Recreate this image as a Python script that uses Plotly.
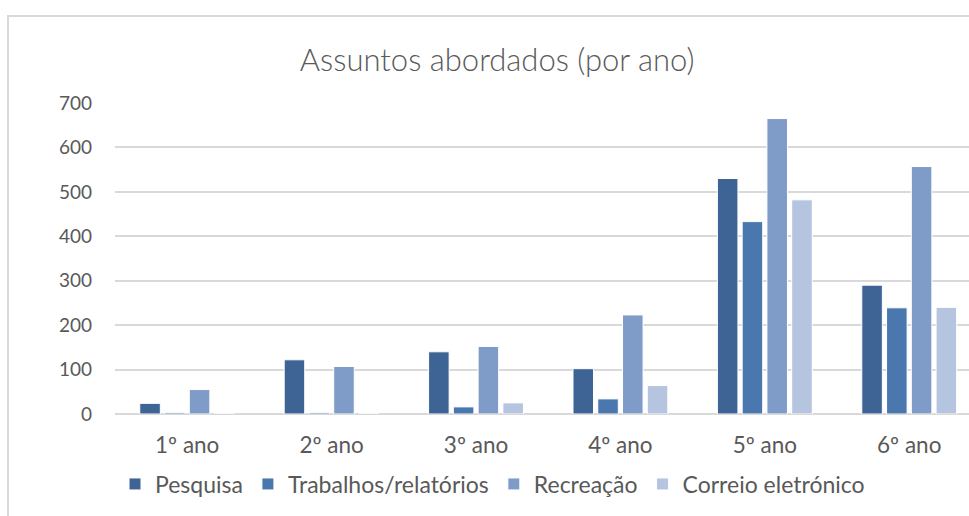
import plotly.graph_objects as go

categories = ["1º ano", "2º ano", "3º ano", "4º ano", "5º ano", "6º ano"]
series_names = ["Pesquisa", "Trabalhos/relatórios", "Recreação", "Correio eletrónico"]
pesquisa = [24, 122, 140, 102, 530, 290]
trabalhos = [3, 3, 16, 34, 433, 239]
recreacao = [55, 107, 152, 223, 665, 557]
correio = [0, 0, 25, 64, 482, 240]
y_ticks = [0, 100, 200, 300, 400, 500, 600, 700]

colors = ["#3E6496", "#4A78AE", "#7F9CC8", "#B5C4DF"]
values = [pesquisa, trabalhos, recreacao, correio]

FONT = "Lato"
TXT = "#595959"

fig = go.Figure()
for name, vals, col in zip(series_names, values, colors):
    fig.add_trace(go.Bar(
        x=categories, y=vals, name=name,
        marker=dict(color=col, line=dict(color="white", width=1)),
    ))

# outer chart frame (left and top edges visible; right/bottom cropped in the reference)
fx0 = (8 - 115) / 854
fy1 = (414 - 16) / 311
frame_path = f"M {fx0} -0.6 L {fx0} {fy1} L 1.2 {fy1}"

fig.update_layout(
    width=969, height=516,
    margin=dict(l=115, r=0, t=103, b=102),
    paper_bgcolor="white", plot_bgcolor="white",
    barmode="group", bargap=0.314, bargroupgap=0.17,
    title=dict(text="Assuntos abordados (por ano)", x=0.513, xref="container",
               y=1 - 60 / 516, yref="container", xanchor="center", yanchor="middle",
               font=dict(family=FONT, size=31, color=TXT, weight=300)),
    font=dict(family=FONT, size=21, color=TXT),
    showlegend=True,
    legend=dict(orientation="h", x=0.5 + 8 / 969, xref="container", xanchor="center",
                y=1 - 484 / 516, yref="container", yanchor="middle",
                font=dict(family=FONT, size=23, color=TXT),
                itemwidth=30, tracegroupgap=0, traceorder="normal"),
    xaxis=dict(range=[-0.5, 5.414], showgrid=False, showline=False, ticks="",
               ticklabelstandoff=15,
               tickfont=dict(family=FONT, size=22.5, color=TXT)),
    yaxis=dict(range=[0, 700], tickvals=y_ticks, showgrid=True, gridcolor="#D9D9D9",
               gridwidth=1.5, zeroline=True, zerolinecolor="#D9D9D9", zerolinewidth=1.5,
               showline=False, ticks="", ticklabelstandoff=22,
               tickfont=dict(family=FONT, size=19, color=TXT)),
    shapes=[dict(type="path", xref="paper", yref="paper", path=frame_path,
                 line=dict(color="#D9D9D9", width=2), fillcolor="rgba(0,0,0,0)",
                 layer="below")],
)

fig.write_html(
    "out.html",
    config={"displayModeBar": False},
    post_script=(
        "document.documentElement.style.overflow='hidden';"
        "document.body.style.margin='0';document.body.style.overflow='hidden';"
    ),
)
